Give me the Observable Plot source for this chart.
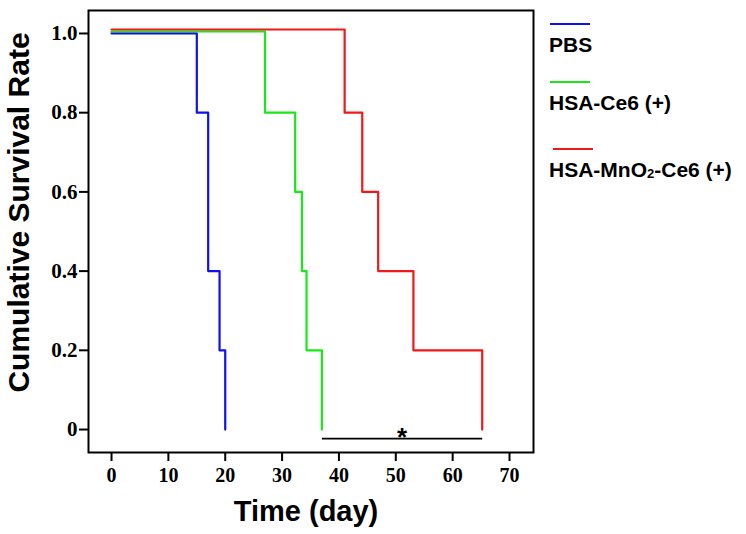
<!DOCTYPE html>
<html>
<head>
<meta charset="utf-8">
<script src="https://cdn.jsdelivr.net/npm/d3@7"></script>
<script src="https://cdn.jsdelivr.net/npm/@observablehq/plot@0.6"></script>
<style>
  html, body { margin: 0; padding: 0; background: white; }
  #wrap { position: relative; width: 746px; height: 534px; }
  #wrap svg g[aria-label="x-axis tick label"] text,
  #wrap svg g[aria-label="y-axis tick label"] text {
    font-family: "Liberation Serif", "Times New Roman", serif !important;
    font-weight: bold;
  }
  .lg-line { position: absolute; height: 2px; width: 40px; }
  .lg-text { position: absolute; font-family: "Liberation Sans", Arial, sans-serif; font-weight: bold; font-size: 21px; color: #000; white-space: nowrap; line-height: 1; }
  .lg-text sub { font-size: 13px; vertical-align: -1px; }
</style>
</head>
<body>
<div id="wrap"></div>
<script>
// ---- data ----
const groups = ["PBS", "HSA-Ce6 (+)", "HSA-MnO2-Ce6 (+)"];
const groupLabelsHtml = ["PBS", "HSA-Ce6 (+)", "HSA-MnO<sub>2</sub>-Ce6 (+)"];
const groupColors = ["#1010f0", "#18e818", "#f01818"];

const pbsDays  = [0, 15, 17, 19, 20];
const pbsSurv  = [1.0, 0.8, 0.4, 0.2, 0];
const ce6Days  = [0, 27, 32.3, 33.5, 34.3, 37];
const ce6Surv  = [1.005, 0.8, 0.6, 0.4, 0.2, 0];
const mnoDays  = [0, 41, 44.1, 46.9, 53.1, 65.2];
const mnoSurv  = [1.01, 0.8, 0.6, 0.4, 0.2, 0];

const xTicks = [0, 10, 20, 30, 40, 50, 60, 70];
const yTicks = [0, 0.2, 0.4, 0.6, 0.8, 1.0];
const yTickLabels = ["0", "0.2", "0.4", "0.6", "0.8", "1.0"];

const sigStart = 37, sigEnd = 65.2, sigLevel = -0.023, sigLabel = "*";

const xTitle = "Time (day)";
const yTitle = "Cumulative Survival Rate";

// ---- build table ----
const series = [[pbsDays, pbsSurv], [ce6Days, ce6Surv], [mnoDays, mnoSurv]];
const table = [];
series.forEach(([ds, ss], i) => ds.forEach((d, j) => table.push({group: groups[i], day: d, surv: ss[j]})));
const sig = [{x1: sigStart, x2: sigEnd, y: sigLevel, label: sigLabel}];

const sans = "'Liberation Sans', Arial, sans-serif";

const chart = Plot.plot({
  width: 746,
  height: 534,
  marginLeft: 88,
  marginRight: 213,
  marginTop: 10,
  marginBottom: 82,
  style: {background: "white", color: "black"},
  x: {domain: [-4.05, 74.22]},
  y: {domain: [-0.058, 1.058]},
  color: {domain: groups, range: groupColors},
  marks: [
    Plot.line(table, {x: "day", y: "surv", z: "group", stroke: "group", curve: "step-after", strokeWidth: 2.2}),
    Plot.link(sig, {x1: "x1", x2: "x2", y1: "y", y2: "y", stroke: "black", strokeWidth: 1.6}),
    Plot.text(sig, {x: d => (d.x1 + d.x2) / 2, y: "y", text: "label", lineAnchor: "bottom", dy: 7, fontSize: 26, fontWeight: "bold", fontFamily: sans, fill: "black"}),
    Plot.frame({stroke: "black", strokeWidth: 2}),
    Plot.axisX({ticks: xTicks, tickSize: 9, tickPadding: 6, strokeWidth: 2, fontSize: 20, label: null, tickFormat: d => String(d)}),
    Plot.axisY({ticks: yTicks, tickSize: 9, tickPadding: 2, strokeWidth: 2, fontSize: 21, label: null, tickFormat: d => yTickLabels[yTicks.indexOf(d)]}),
    Plot.text([xTitle], {frameAnchor: "bottom", dx: -5, dy: 68, lineAnchor: "bottom", fontSize: 29, fontWeight: "bold", fontFamily: sans, fill: "black"}),
    Plot.text([yTitle], {frameAnchor: "left", rotate: -90, textAnchor: "middle", dx: -60, dy: -19, lineAnchor: "bottom", fontSize: 30, fontWeight: "bold", fontFamily: sans, fill: "black"})
  ]
});

const wrap = document.getElementById("wrap");
wrap.appendChild(chart);

// ---- legend (HTML, to the right of the frame) ----
const legendRowY = [24, 82, 149];
groups.forEach((g, i) => {
  const line = document.createElement("div");
  line.className = "lg-line";
  line.style.background = groupColors[i];
  line.style.left = (i === 2 ? 553 : 550) + "px";
  line.style.top = (legendRowY[i] - 1) + "px";
  wrap.appendChild(line);
  const t = document.createElement("div");
  t.className = "lg-text";
  t.innerHTML = groupLabelsHtml[i];
  t.style.left = "549px";
  t.style.top = (legendRowY[i] + 10) + "px";
  wrap.appendChild(t);
});
</script>
</body>
</html>
